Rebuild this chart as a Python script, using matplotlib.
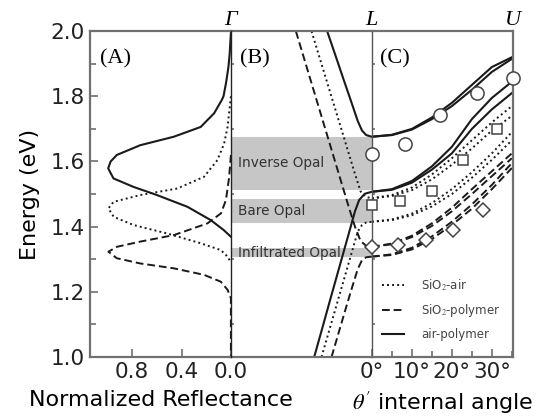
import matplotlib
matplotlib.use("Agg")
import matplotlib.pyplot as plt
from matplotlib.ticker import MultipleLocator

# ---- panel A: normalized reflectance spectra (energy eV, reflectance) ----
refl_air_poly_E = [1.995, 1.93, 1.89, 1.84, 1.80, 1.788, 1.748, 1.706, 1.676, 1.65, 1.62, 1.60,
                   1.579, 1.548, 1.522, 1.497, 1.461, 1.42, 1.39, 1.369]
refl_air_poly_R = [0.0, 0.01, 0.02, 0.04, 0.06, 0.075, 0.136, 0.245, 0.463, 0.735, 0.925, 0.975,
                   0.995, 0.952, 0.79, 0.60, 0.353, 0.163, 0.06, 0.0]
refl_sio2_air_E = [1.80, 1.706, 1.655, 1.604, 1.553, 1.517, 1.497, 1.476, 1.456, 1.43, 1.405,
                   1.379, 1.349, 1.328, 1.308, 1.29]
refl_sio2_air_R = [0.0, 0.027, 0.055, 0.11, 0.218, 0.435, 0.735, 0.952, 0.993, 0.95, 0.79,
                   0.517, 0.245, 0.082, 0.027, 0.0]
refl_sio2_poly_E = [1.62, 1.55, 1.482, 1.441, 1.41, 1.374, 1.354, 1.338, 1.323, 1.303, 1.287,
                    1.272, 1.252, 1.231, 1.206, 1.18, 1.0]
refl_sio2_poly_R = [0.0, 0.015, 0.04, 0.08, 0.19, 0.463, 0.735, 0.925, 0.993, 0.925, 0.735,
                    0.463, 0.218, 0.082, 0.027, 0.0, 0.0]

# ---- panel B: bands along Gamma-L (k: 0 = Gamma, 1 = L) ----
b_air_poly_up_k = [0.683, 0.75, 0.80, 0.85, 0.90, 0.93, 0.96, 1.0]
b_air_poly_up_E = [2.0, 1.915, 1.851, 1.788, 1.724, 1.695, 1.681, 1.676]
b_air_poly_lo_k = [0.591, 0.65, 0.70, 0.75, 0.80, 0.85, 0.88, 0.91, 0.95, 1.0]
b_air_poly_lo_E = [1.0, 1.091, 1.169, 1.246, 1.323, 1.40, 1.447, 1.482, 1.501, 1.507]
b_sio2_poly_up_k = [0.461, 0.55, 0.65, 0.75, 0.837, 0.88, 0.92, 0.96, 1.0]
b_sio2_poly_up_E = [2.0, 1.872, 1.728, 1.584, 1.459, 1.40, 1.356, 1.341, 1.338]
b_sio2_poly_lo_k = [0.714, 0.80, 0.85, 0.90, 0.93, 0.96, 1.0]
b_sio2_poly_lo_E = [1.0, 1.127, 1.20, 1.27, 1.297, 1.306, 1.308]
b_sio2_air_up_k = [0.572, 0.70, 0.80, 0.88, 0.92, 0.96, 1.0]
b_sio2_air_up_E = [2.0, 1.818, 1.676, 1.562, 1.508, 1.491, 1.487]
b_sio2_air_lo_k = [0.643, 0.75, 0.85, 0.90, 0.93, 0.96, 1.0]
b_sio2_air_lo_E = [1.0, 1.16, 1.31, 1.385, 1.405, 1.413, 1.415]

# stop bands at L (eV)
gap_names = ["Inverse Opal", "Bare Opal", "Infiltrated Opal"]
gap_low = [1.512, 1.412, 1.308]
gap_high = [1.676, 1.484, 1.333]

# ---- panel C: bands vs internal angle (deg) ----
angle = [0, 5, 10, 15, 20, 25, 30, 35]
c_air_poly = [
    [1.676, 1.682, 1.700, 1.735, 1.780, 1.835, 1.890, 1.920],
    [1.676, 1.681, 1.698, 1.730, 1.770, 1.820, 1.875, 1.915],
    [1.507, 1.515, 1.540, 1.585, 1.645, 1.730, 1.795, 1.845],
    [1.507, 1.513, 1.535, 1.575, 1.625, 1.700, 1.760, 1.810],
]
c_sio2_air = [
    [1.487, 1.497, 1.520, 1.560, 1.610, 1.665, 1.720, 1.770],
    [1.487, 1.494, 1.512, 1.545, 1.590, 1.640, 1.695, 1.740],
    [1.415, 1.422, 1.440, 1.472, 1.515, 1.567, 1.625, 1.690],
    [1.415, 1.420, 1.435, 1.462, 1.500, 1.550, 1.605, 1.665],
]
c_sio2_poly = [
    [1.338, 1.348, 1.372, 1.410, 1.458, 1.515, 1.570, 1.625],
    [1.338, 1.346, 1.368, 1.402, 1.447, 1.500, 1.555, 1.610],
    [1.308, 1.315, 1.335, 1.370, 1.415, 1.468, 1.528, 1.595],
    [1.308, 1.313, 1.330, 1.362, 1.405, 1.455, 1.515, 1.580],
]

# measured peaks
circ_ang = [0, 8.2, 17.0, 26.2, 35.3]
circ_E = [1.623, 1.655, 1.742, 1.810, 1.855]
sq_ang = [0, 7.0, 15.0, 22.8, 31.2]
sq_E = [1.466, 1.480, 1.510, 1.604, 1.700]
dia_ang = [0, 6.6, 13.5, 20.3, 27.8]
dia_E = [1.338, 1.343, 1.359, 1.390, 1.451]

line_c = "#1a1a1a"
spine_c = "#707070"
solid = dict(color=line_c, lw=1.5, ls="-")
dashed = dict(color=line_c, lw=1.4, ls=(0, (4, 2)))
dotted = dict(color=line_c, lw=1.4, ls=(0, (1, 1.6)))

plt.rcParams["mathtext.fontset"] = "stix"

fig = plt.figure(figsize=(5.45, 4.16), dpi=100)
axA, axB, axC = fig.subplots(1, 3, sharey=True)
fig.subplots_adjust(left=0.165, right=0.941, top=0.925, bottom=0.142, wspace=0)

for ax in (axA, axB, axC):
    ax.patch.set_visible(False)
    for s in ax.spines.values():
        s.set_color(spine_c)
        s.set_linewidth(1.6)
    ax.tick_params(direction="in", colors=spine_c, labelcolor="#222", width=1.2,
                   labelsize=15.5)
    ax.tick_params(which="minor", direction="in", colors=spine_c, width=1.2)
# inner boundaries at Gamma and L
axA.spines["right"].set_visible(False)
axB.spines["left"].set_color("#222")
axB.spines["left"].set_linewidth(1.0)
axB.spines["left"].set_zorder(3)
axB.spines["right"].set_visible(False)
axC.spines["left"].set_color("#555")
axC.spines["left"].set_linewidth(1.0)

# panel A
axA.plot(refl_air_poly_R, refl_air_poly_E, **solid)
axA.plot(refl_sio2_air_R, refl_sio2_air_E, **dotted)
axA.plot(refl_sio2_poly_R, refl_sio2_poly_E, **dashed)
axA.set_xlim(1.143, 0)
axA.set_ylim(1.0, 2.0)
axA.set_xticks([0.8, 0.4, 0.0])
axA.set_xticklabels(["0.8", "0.4", "0.0"])
axA.yaxis.set_major_locator(MultipleLocator(0.2))
axA.yaxis.set_minor_locator(MultipleLocator(0.1))
axA.tick_params(axis="y", length=6)
axA.tick_params(axis="y", which="minor", length=4)
axA.tick_params(axis="x", length=6)
axA.set_ylabel("Energy (eV)", fontsize=16, labelpad=8)
axA.set_xlabel("Normalized Reflectance", fontsize=16, labelpad=6)

# panel B
for lo, hi, name in zip(gap_low, gap_high, gap_names):
    axB.axhspan(lo, hi, color="#c6c6c6", lw=0, zorder=0)
    axB.text(0.05, (lo + hi) / 2, name, fontsize=9.8, color="#333",
             va="center", ha="left", zorder=1)
axB.plot(b_air_poly_up_k, b_air_poly_up_E, **solid)
axB.plot(b_air_poly_lo_k, b_air_poly_lo_E, **solid)
axB.plot(b_sio2_poly_up_k, b_sio2_poly_up_E, **dashed)
axB.plot(b_sio2_poly_lo_k, b_sio2_poly_lo_E, **dashed)
axB.plot(b_sio2_air_up_k, b_sio2_air_up_E, **dotted)
axB.plot(b_sio2_air_lo_k, b_sio2_air_lo_E, **dotted)
axB.set_xlim(0, 1)
axB.set_xticks([])
axB.tick_params(axis="y", left=False)

# panel C
for ys in c_air_poly:
    axC.plot(angle, ys, **solid)
for ys in c_sio2_air:
    axC.plot(angle, ys, **dotted)
for ys in c_sio2_poly:
    axC.plot(angle, ys, **dashed)
mk = dict(ls="none", mfc="white", mec="#444", mew=1.1, clip_on=False, zorder=5)
axC.plot(circ_ang, circ_E, marker="o", ms=9.5, **mk)
axC.plot(sq_ang, sq_E, marker="s", ms=7.5, **mk)
axC.plot(dia_ang, dia_E, marker="D", ms=7.5, **mk)
axC.set_xlim(0, 35.25)
axC.set_xticks([0, 10, 20, 30])
axC.set_xticklabels(["0°", "10°", "20°", "30°"])
axC.xaxis.set_minor_locator(MultipleLocator(5))
axC.tick_params(axis="x", length=6)
axC.tick_params(axis="x", which="minor", length=4)
axC.tick_params(axis="y", left=False)
axC.set_xlabel(r"$\theta'$ internal angle", fontsize=16, labelpad=6)

h1, = axC.plot([], [], **dotted)
h2, = axC.plot([], [], **dashed)
h3, = axC.plot([], [], **solid)
leg = axC.legend([h1, h2, h3], [r"SiO$_2$-air", r"SiO$_2$-polymer", "air-polymer"],
                 loc="lower left", bbox_to_anchor=(0.0, 0.015), frameon=False,
                 fontsize=8.5, handlelength=1.8, handletextpad=1.5, labelspacing=0.8)
for t in leg.get_texts():
    t.set_color("#444")

# panel letters and symmetry points
serif = dict(family="Liberation Serif", fontsize=16)
axA.text(0.07, 0.915, "(A)", transform=axA.transAxes, va="center", **serif)
axB.text(0.065, 0.915, "(B)", transform=axB.transAxes, va="center", **serif)
axC.text(0.06, 0.915, "(C)", transform=axC.transAxes, va="center", **serif)
axB.text(0.0, 1.005, "Γ", transform=axB.transAxes, ha="center", va="bottom",
         style="italic", **serif)
axB.text(1.0, 1.005, "L", transform=axB.transAxes, ha="center", va="bottom",
         style="italic", **serif)
axC.text(1.0, 1.005, "U", transform=axC.transAxes, ha="center", va="bottom",
         style="italic", **serif)

fig.savefig("out.png", dpi=100)
